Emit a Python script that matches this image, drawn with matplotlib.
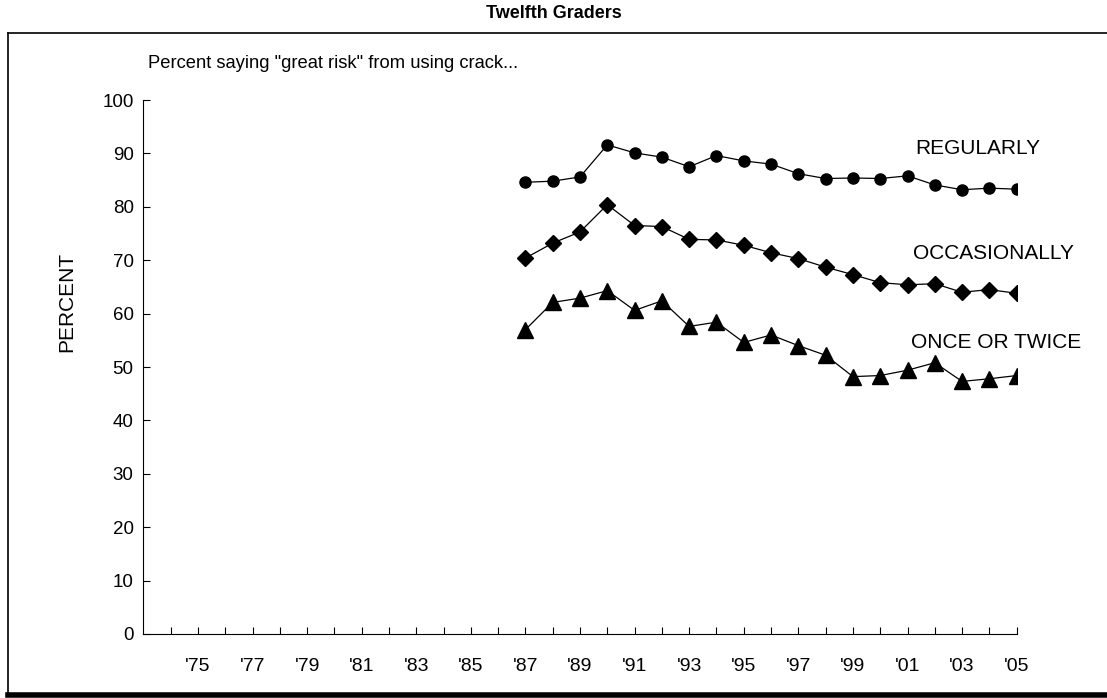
import matplotlib
matplotlib.use('Agg')
import matplotlib.pyplot as plt
from matplotlib.lines import Line2D

plt.rcParams['font.family'] = ['Liberation Sans', 'DejaVu Sans']

# survey years and percent saying "great risk"
years = list(range(1987, 2006))
regularly = [84.6, 84.8, 85.6, 91.6, 90.1, 89.3, 87.5, 89.6, 88.6, 88.0,
             86.2, 85.3, 85.4, 85.3, 85.8, 84.1, 83.2, 83.5, 83.3]
occasionally = [70.4, 73.2, 75.3, 80.4, 76.5, 76.3, 73.9, 73.8, 72.8, 71.4,
                70.3, 68.7, 67.3, 65.8, 65.4, 65.6, 64.0, 64.5, 63.8]
once_twice = [57.0, 62.1, 62.9, 64.3, 60.6, 62.4, 57.6, 58.4, 54.6, 56.0,
              54.0, 52.2, 48.2, 48.4, 49.4, 50.8, 47.3, 47.8, 48.4]

tick_years = list(range(1974, 2006))
label_years = list(range(1975, 2006, 2))

fig = plt.figure(figsize=(11.07, 6.98), dpi=100)
ax = fig.add_axes([0.1295, 0.0917, 0.9184 - 0.1295, 0.8567 - 0.0917])

ax.plot(years, regularly, color='black', lw=0.9, marker='o', ms=8)
ax.plot(years, occasionally, color='black', lw=0.9, marker='D', ms=8)
ax.plot(years, once_twice, color='black', lw=0.9, marker='^', ms=11)

ax.text(2001.28, 90.9, 'REGULARLY', fontsize=15, va='center')
ax.text(2001.19, 71.2, 'OCCASIONALLY', fontsize=15, va='center')
ax.text(2001.13, 54.6, 'ONCE OR TWICE', fontsize=15, va='center')

ax.set_xlim(1973, 2005)
ax.set_ylim(0, 100)
ax.set_yticks(range(0, 101, 10))
ax.set_xticks(tick_years)
ax.set_xticklabels(["'%02d" % (y % 100) if y in label_years else '' for y in tick_years])
ax.tick_params(axis='x', direction='in', length=5, width=0.8, pad=17, labelsize=14)
ax.tick_params(axis='y', direction='in', length=5, width=0.8, pad=7, labelsize=13.5)
for s in ['top', 'right']:
    ax.spines[s].set_visible(False)
for s in ['left', 'bottom']:
    ax.spines[s].set_linewidth(0.8)

fig.text(66.7 / 1107, 1 - 302 / 698, 'PERCENT', rotation=90, ha='center', va='center',
         fontsize=15)

fig.text(0.5, 1 - 13 / 698, 'Twelfth Graders', ha='center', va='center',
         fontsize=13, fontweight='bold')
fig.text(147.5 / 1107, 1 - 64 / 698, 'Percent saying "great risk" from using crack...',
         fontsize=13.2, va='center')

# frame around the chart
W, H = 1107.0, 698.0
fig.add_artist(Line2D([8 / W, 1.0], [1 - 33 / H, 1 - 33 / H], color='black', lw=1.2))
fig.add_artist(Line2D([8 / W, 8 / W], [1 - 33 / H, 1 - 695 / H], color='black', lw=1.2))
fig.add_artist(Line2D([8 / W, 1.0], [1 - 695 / H, 1 - 695 / H], color='black', lw=4))

fig.savefig('out.png', dpi=100)
